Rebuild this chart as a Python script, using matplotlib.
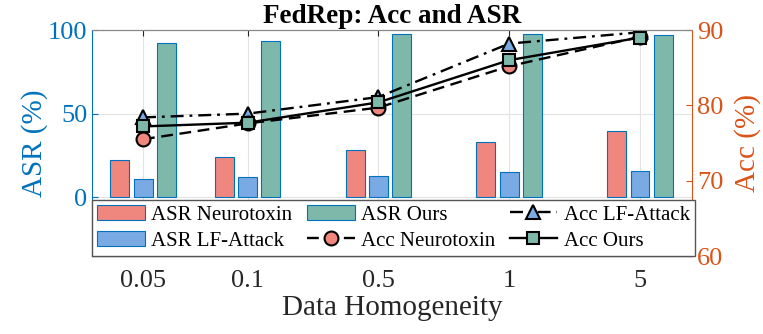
import numpy as np
import matplotlib
matplotlib.use("Agg")
import matplotlib.pyplot as plt

plt.rcParams['font.family'] = ['Liberation Serif', 'DejaVu Serif']

# Datos
etiquetas_x = ['0.05', '0.1', '0.5', '1', '5']
asr_neurotoxin = [22.0, 23.8, 28.0, 33.3, 39.3]
asr_lf_attack = [10.7, 11.9, 12.5, 14.9, 15.5]
asr_ours = [92.0, 93.5, 97.6, 97.6, 97.0]
acc_lf_attack = [78.4, 78.9, 81.1, 88.2, 89.7]
acc_neurotoxin = [75.5, 77.6, 79.7, 85.2, 89.1]
acc_ours = [77.2, 77.7, 80.4, 86.0, 89.0]

# Posiciones en el eje x (el primer grupo está más cerca del segundo)
pos_x = np.array([1.0, 1.8, 2.8, 3.8, 4.8])
ancho = 0.145
desp = 0.178

azul_eje = '#0072BD'
naranja_eje = '#D95319'
c_rojo = '#F0877F'
c_azul = '#7AAAE4'
c_verde = '#7EB8AA'

fig = plt.figure(figsize=(7.63, 3.34), dpi=100)
ax1 = fig.add_axes([0.1206, 0.2335, 0.7864, 0.6766])
ax2 = ax1.twinx()

# Barras (eje izquierdo)
b1 = ax1.bar(pos_x - desp, asr_neurotoxin, ancho, color=c_rojo, edgecolor=azul_eje,
             linewidth=0.8, label='ASR Neurotoxin')
b2 = ax1.bar(pos_x, asr_lf_attack, ancho, color=c_azul, edgecolor=azul_eje,
             linewidth=0.8, label='ASR LF-Attack')
b3 = ax1.bar(pos_x + desp, asr_ours, ancho, color=c_verde, edgecolor=azul_eje,
             linewidth=0.8, label='ASR Ours')

ax1.set_xlim(0.61, 5.198)
ax1.set_ylim(-35.2, 100)
ax1.set_yticks([0, 50, 100])
ax1.set_xticks(pos_x)
ax1.set_xticklabels(etiquetas_x)
ax1.set_axisbelow(True)
ax1.grid(True, color='#e3e3e3', linewidth=0.8)
ax1.tick_params(axis='y', colors=azul_eje, labelsize=19, direction='in', length=4)
ax1.tick_params(axis='x', labelsize=19, direction='in', length=4, top=True,
                colors='#262626', pad=10)
ax1.set_ylabel('ASR (%)', color=azul_eje, fontsize=21, labelpad=0)
ax1.set_xlabel('Data Homogeneity', fontsize=21, color='#262626', labelpad=2)
ax1.spines['left'].set_color(azul_eje)
ax1.spines['right'].set_visible(False)
ax1.spines['top'].set_color('#888888')
ax1.spines['bottom'].set_color('#262626')

# Líneas (eje derecho)
l1, = ax2.plot(pos_x, acc_lf_attack, color='black', linewidth=1.7, marker='^',
               markersize=10, markerfacecolor=c_azul, markeredgecolor='black',
               markeredgewidth=1.5, label='Acc LF-Attack',
               linestyle=(0, (5.5, 2.5, 1.2, 2.5)))
l2, = ax2.plot(pos_x, acc_neurotoxin, color='black', linewidth=1.7, marker='o',
               markersize=10, markerfacecolor=c_rojo, markeredgecolor='black',
               markeredgewidth=1.5, label='Acc Neurotoxin',
               linestyle=(0, (5.0, 2.8)))
l3, = ax2.plot(pos_x, acc_ours, '-', color='black', linewidth=1.7, marker='s',
               markersize=9, markerfacecolor=c_verde, markeredgecolor='black',
               markeredgewidth=1.5, label='Acc Ours')

ax2.set_ylim(60, 90)
ax2.set_yticks([60, 70, 80, 90])
ax2.tick_params(axis='y', colors=naranja_eje, labelsize=19, direction='in', length=4)
ax2.set_ylabel('Acc (%)', color=naranja_eje, fontsize=21, labelpad=8)
ax2.spines['right'].set_color(naranja_eje)
ax2.spines['left'].set_visible(False)
ax2.spines['top'].set_color('#888888')
ax2.spines['bottom'].set_color('#262626')

ax1.set_title('FedRep: Acc and ASR', fontsize=19.5, fontweight='bold', pad=5)

handles = [b1, b2, b3, l2, l1, l3]
leg = ax2.legend(handles=handles, labels=[h.get_label() for h in handles],
                 ncol=3, loc='lower left', bbox_to_anchor=(0.0, 0.0, 1.005, 0.243),
                 mode='expand', borderaxespad=0, fontsize=15, frameon=True,
                 fancybox=False, framealpha=1, edgecolor='#555555',
                 handlelength=2.3, handleheight=0.75, handletextpad=0.3,
                 borderpad=0.25, labelspacing=0.3, columnspacing=0.4)
leg.get_frame().set_linewidth(1.0)
leg.set_zorder(10)

fig.savefig('out.png', dpi=100)
